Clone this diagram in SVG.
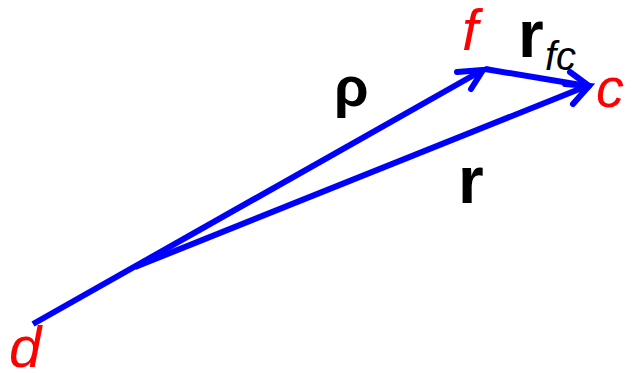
<svg xmlns="http://www.w3.org/2000/svg" width="633" height="373" viewBox="0 0 633 373">
<style>
.v{stroke:#0000ff;stroke-width:6;fill:none;stroke-linecap:butt}
.h{stroke:#0000ff;stroke-width:6;fill:none;stroke-linecap:round;stroke-linejoin:miter}
.pt{font-family:"Liberation Sans",Arial,sans-serif;font-style:italic;fill:#ff0000}
.b{font-family:"Liberation Sans",Arial,sans-serif;font-weight:bold;fill:#000}
.s{font-family:"Liberation Sans",Arial,sans-serif;font-style:italic;fill:#000}
</style>
<rect width="633" height="373" fill="#fff"/>
<g id="connectors">
<line class="v" x1="33" y1="324" x2="481" y2="71"/>
<polyline class="h" points="457,72 483,70 471,89"/>
<line class="v" x1="135" y1="267" x2="587" y2="86"/>
<polyline class="h" points="565,84 589,86 573,104"/>
<line class="v" x1="485" y1="69" x2="587" y2="86"/>
<polyline class="h" points="570,72 589,86"/>
</g>
<g id="node-d"><text class="pt" x="9" y="367" font-size="58">d</text></g>
<g id="node-f"><text class="pt" x="462" y="50" font-size="58">f</text></g>
<g id="node-c"><text class="pt" x="596" y="107" font-size="56">c</text></g>
<g id="label-rho"><text class="b" x="334" y="106" font-size="56">ρ</text></g>
<g id="label-r"><text class="b" x="458" y="203" font-size="66">r</text></g>
<g id="label-rfc"><text class="b" x="518" y="57" font-size="66">r</text><text class="s" x="545" y="70" font-size="40">fc</text></g>
</svg>
